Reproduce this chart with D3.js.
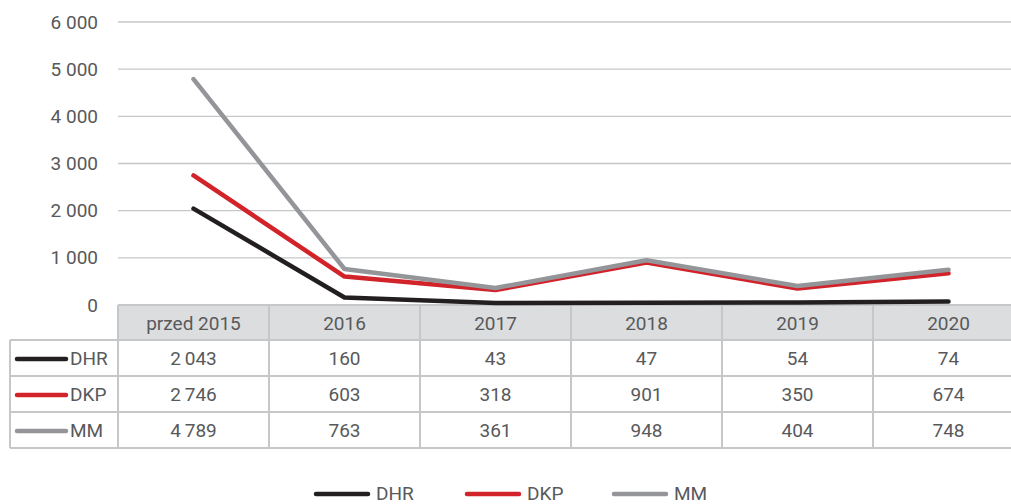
<!DOCTYPE html>
<html lang="pl">
<head>
<meta charset="UTF-8">
<script src="https://d3js.org/d3.v7.min.js"></script>
<style>
    body { margin: 0; background: #fff; overflow: hidden; }
    text { font-family: Roboto, "Noto Sans", sans-serif; fill: #58595b; font-size: 19px; }
</style>
</head>
<body>
<svg id="chart"></svg>
<script>
    // data
    const categories = ["przed 2015", "2016", "2017", "2018", "2019", "2020"];
    const seriesNames = ["DHR", "DKP", "MM"];
    const dhr = [2043, 160, 43, 47, 54, 74];
    const dkp = [2746, 603, 318, 901, 350, 674];
    const mm  = [4789, 763, 361, 948, 404, 748];
    const yTicks = [0, 1000, 2000, 3000, 4000, 5000, 6000];

    const colors = { DHR: "#231f20", DKP: "#d2232a", MM: "#939598" };
    const series = [
        { name: "DHR", values: dhr },
        { name: "DKP", values: dkp },
        { name: "MM", values: mm }
    ];

    const width = 1011, height = 504;
    const left = 118, colW = 151;
    const plotTop = 22, plotBottom = 305;
    const headerH = 35, rowH = 36;

    const svg = d3.select("#chart").attr("width", width).attr("height", height);

    const x = d3.scaleBand().domain(categories).range([left, left + colW * categories.length]);
    const y = d3.scaleLinear().domain([0, 6000]).range([plotBottom, plotTop]);
    const fmt = v => d3.format(",")(v).replace(/,/g, "\u2009");

    // grid + y labels
    svg.append("g").selectAll("line").data(yTicks.filter(d => d > 0)).enter().append("line")
        .attr("x1", left).attr("x2", width)
        .attr("y1", d => y(d)).attr("y2", d => y(d))
        .attr("stroke", "#c6c7c9").attr("stroke-width", 1.3);

    svg.append("g").selectAll("text").data(yTicks).enter().append("text")
        .attr("x", 98).attr("y", d => y(d))
        .attr("text-anchor", "end").attr("dy", "0.35em")
        .text(d => d === 0 ? "0" : d3.format(",")(d).replace(",", " "));

    // table
    const tTop = plotBottom;
    const tbl = svg.append("g");
    tbl.append("rect").attr("x", left).attr("y", tTop).attr("width", width - left).attr("height", headerH)
        .attr("fill", "#dcdddf");
    const gridCol = "#c6c7c9";
    // horizontal lines
    const hLines = [tTop, tTop + headerH, tTop + headerH + rowH, tTop + headerH + 2 * rowH, tTop + headerH + 3 * rowH];
    hLines.forEach((yy, i) => {
        tbl.append("line").attr("x1", i === 0 ? left : 10).attr("x2", width)
            .attr("y1", yy).attr("y2", yy).attr("stroke", gridCol).attr("stroke-width", 2);
    });
    // vertical lines
    tbl.append("line").attr("x1", 10).attr("x2", 10)
        .attr("y1", tTop + headerH).attr("y2", tTop + headerH + 3 * rowH)
        .attr("stroke", gridCol).attr("stroke-width", 2);
    categories.forEach(c => {
        tbl.append("line").attr("x1", x(c)).attr("x2", x(c))
            .attr("y1", tTop).attr("y2", tTop + headerH + 3 * rowH)
            .attr("stroke", gridCol).attr("stroke-width", 2);
    });
    tbl.selectAll(".hdr").data(categories).enter().append("text")
        .attr("x", d => x(d) + x.bandwidth() / 2).attr("y", tTop + headerH / 2 + 1)
        .attr("text-anchor", "middle").attr("dy", "0.35em")
        .text(d => d);

    series.forEach((s, i) => {
        const cy = tTop + headerH + rowH * i + rowH / 2;
        tbl.append("line").attr("x1", 17).attr("x2", 66).attr("y1", cy + 1).attr("y2", cy + 1)
            .attr("stroke", colors[s.name]).attr("stroke-width", 4.5).attr("stroke-linecap", "round");
        tbl.append("text").attr("x", 70).attr("y", cy).attr("dy", "0.35em")
            .text(s.name);
        tbl.selectAll(".v" + i).data(s.values).enter().append("text")
            .attr("x", (d, j) => x(categories[j]) + x.bandwidth() / 2).attr("y", cy)
            .attr("text-anchor", "middle").attr("dy", "0.35em")
            .text(d => fmt(d));
    });

    // lines
    const line = d3.line()
        .x((d, j) => x(categories[j]) + x.bandwidth() / 2)
        .y(d => y(d));
    svg.append("g").selectAll("path").data(series).enter().append("path")
        .attr("d", d => line(d.values))
        .attr("fill", "none")
        .attr("stroke", d => colors[d.name])
        .attr("stroke-width", 4.5)
        .attr("stroke-linecap", "round")
        .attr("stroke-linejoin", "round");

    // legend
    const legX = [316, 467, 614];
    const leg = svg.append("g");
    series.forEach((s, i) => {
        leg.append("line").attr("x1", legX[i]).attr("x2", legX[i] + 52).attr("y1", 494).attr("y2", 494)
            .attr("stroke", colors[s.name]).attr("stroke-width", 4.5).attr("stroke-linecap", "round");
        leg.append("text").attr("x", legX[i] + 60).attr("y", 493).attr("dy", "0.35em")
            .text(s.name);
    });
</script>
</body>
</html>
